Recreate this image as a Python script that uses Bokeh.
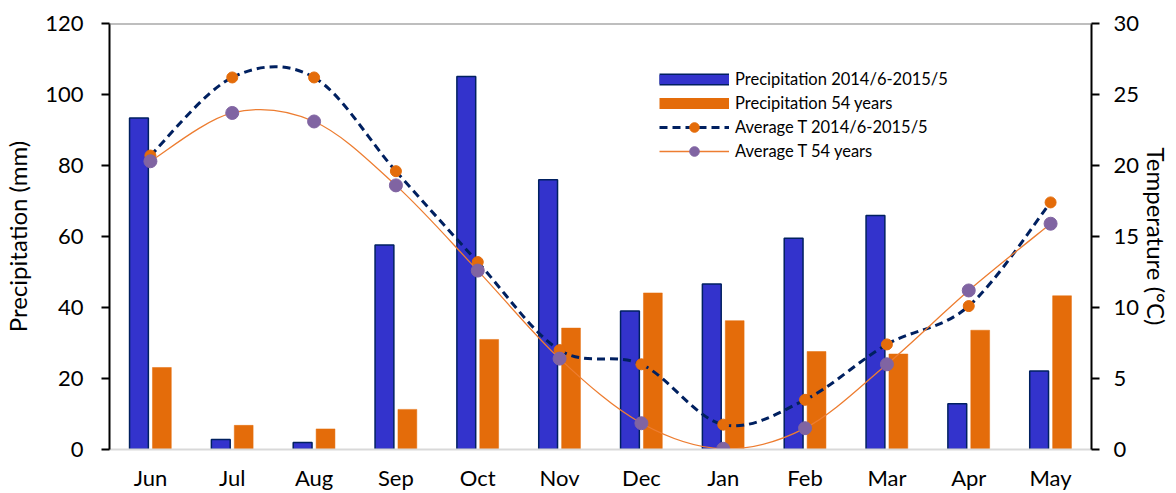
import numpy as np
from bokeh.plotting import figure
from bokeh.models import (Range1d, LinearAxis, FixedTicker, Span, Legend,
                          LegendItem, ColumnDataSource)
from bokeh.transform import dodge
from bokeh.embed import file_html
from bokeh.resources import INLINE

# ---------------- data ----------------
months = ["Jun", "Jul", "Aug", "Sep", "Oct", "Nov", "Dec", "Jan", "Feb", "Mar", "Apr", "May"]
precip_2014 = [93.4, 2.8, 2.0, 57.6, 105.1, 76.0, 39.0, 46.6, 59.5, 65.9, 12.9, 22.1]
precip_54 = [23.1, 6.8, 5.8, 11.3, 31.0, 34.2, 44.1, 36.3, 27.6, 26.9, 33.6, 43.3]
temp_2014 = [20.7, 26.2, 26.2, 19.6, 13.2, 7.0, 6.0, 1.75, 3.5, 7.4, 10.1, 17.4]
temp_54 = [20.3, 23.7, 23.1, 18.6, 12.6, 6.4, 1.85, 0.05, 1.5, 6.0, 11.2, 15.9]
precip_ticks = [0, 20, 40, 60, 80, 100, 120]
temp_ticks = [0, 5, 10, 15, 20, 25, 30]

labels = ["Precipitation 2014/6-2015/5", "Precipitation 54 years",
          "Average T 2014/6-2015/5", "Average T 54 years"]

BLUE = "#3333CC"
NAVY = "#002060"
ORANGE = "#E46C0A"
ORANGE_LINE = "#ED7D31"
PURPLE = "#8064A2"
FONT = "Lato"

x = list(range(len(months)))


def smooth(xs, ys):
    """Catmull-Rom style bezier control points (Excel-like smoothing)."""
    xs = np.asarray(xs, float)
    ys = np.asarray(ys, float)
    ex = np.concatenate([[xs[0]], xs, [xs[-1]]])
    ey = np.concatenate([[ys[0]], ys, [ys[-1]]])
    d = dict(x0=[], y0=[], x1=[], y1=[], cx0=[], cy0=[], cx1=[], cy1=[])
    for i in range(len(xs) - 1):
        p0x, p1x, p2x, p3x = ex[i], ex[i + 1], ex[i + 2], ex[i + 3]
        p0y, p1y, p2y, p3y = ey[i], ey[i + 1], ey[i + 2], ey[i + 3]
        d["x0"].append(p1x); d["y0"].append(p1y)
        d["x1"].append(p2x); d["y1"].append(p2y)
        d["cx0"].append(p1x + (p2x - p0x) / 6.0)
        d["cy0"].append(p1y + (p2y - p0y) / 6.0)
        d["cx1"].append(p2x - (p3x - p1x) / 6.0)
        d["cy1"].append(p2y - (p3y - p1y) / 6.0)
    return ColumnDataSource(d)


p = figure(width=1176, height=493, output_backend="svg", toolbar_location=None,
           x_range=Range1d(-0.5, len(months) - 0.5), y_range=Range1d(0, 120),
           min_border_left=107, min_border_right=85, min_border_top=23,
           min_border_bottom=44)
p.extra_y_ranges = {"temp": Range1d(0, 30)}
p.grid.visible = False
p.outline_line_color = None
p.background_fill_color = "white"
p.border_fill_color = "white"

bars = ColumnDataSource(dict(x=x, a=precip_2014, b=precip_54))
p.vbar(x=dodge("x", -0.14), top="a", width=0.23, source=bars,
       fill_color=BLUE, line_color=NAVY, line_width=1.5)
p.vbar(x=dodge("x", 0.14), top="b", width=0.23, source=bars,
       fill_color=ORANGE, line_color=ORANGE, line_width=0.5)

# smooth lines
p.bezier(source=smooth(x, temp_2014), x0="x0", y0="y0", x1="x1", y1="y1",
         cx0="cx0", cy0="cy0", cx1="cx1", cy1="cy1", y_range_name="temp",
         line_color=NAVY, line_width=3, line_dash="8 5")
p.scatter(x=x, y=temp_2014, y_range_name="temp", size=11, marker="circle",
          fill_color=ORANGE, line_color=ORANGE)
p.bezier(source=smooth(x, temp_54), x0="x0", y0="y0", x1="x1", y1="y1",
         cx0="cx0", cy0="cy0", cx1="cx1", cy1="cy1", y_range_name="temp",
         line_color=ORANGE_LINE, line_width=1.3)
p.scatter(x=x, y=temp_54, y_range_name="temp", size=13, marker="circle",
          fill_color=PURPLE, line_color=PURPLE)

# top border line
p.add_layout(Span(location=120, dimension="width", line_color="#7F7F7F", line_width=2))

# axes
ly = p.yaxis[0]
ly.ticker = FixedTicker(ticks=precip_ticks)
ly.axis_label = "Precipitation (mm)"

ry = LinearAxis(y_range_name="temp", ticker=FixedTicker(ticks=temp_ticks),
                axis_label="Temperature (°C)")
p.add_layout(ry, "right")

for ax in (ly, ry):
    ax.axis_line_color = "black"
    ax.axis_line_width = 2
    ax.major_tick_line_color = "black"
    ax.major_tick_line_width = 2
    ax.major_tick_out = 8
    ax.major_tick_in = 0
    ax.minor_tick_line_color = None
    ax.major_label_text_font = FONT
    ax.major_label_text_font_size = "22px"
    ax.major_label_text_color = "black"
    ax.axis_label_text_font = FONT
    ax.axis_label_text_font_size = "24px"
    ax.axis_label_text_font_style = "normal"
    ax.axis_label_text_color = "black"
    ax.axis_label_text_line_height = 0.9
ly.major_label_standoff = 18
ly.axis_label_standoff = 10
ry.major_label_standoff = 14
ry.axis_label_standoff = 0

xa = p.xaxis[0]
xa.ticker = FixedTicker(ticks=x)
xa.major_label_overrides = {i: m for i, m in enumerate(months)}
xa.axis_line_color = "#D9D9D9"
xa.axis_line_width = 2
xa.major_tick_line_color = None
xa.minor_tick_line_color = None
xa.major_label_text_font = FONT
xa.major_label_text_font_size = "22px"
xa.major_label_text_color = "black"
xa.major_label_standoff = 8

# legend (proxy renderers that draw nothing in the plot)
def proxy():
    return ColumnDataSource(dict(x=[np.nan], y=[np.nan]))

l1a = p.line(x="x", y="y", source=proxy(), line_color=NAVY, line_width=12)
l1b = p.line(x="x", y="y", source=proxy(), line_color=BLUE, line_width=9)
l2 = p.line(x="x", y="y", source=proxy(), line_color=ORANGE, line_width=11)
l3 = p.line(x="x", y="y", source=proxy(), line_color=NAVY, line_width=3, line_dash="8 5")
m3 = p.scatter(x="x", y="y", source=proxy(), marker="circle",
               fill_color=ORANGE, line_color=ORANGE)
l4 = p.line(x="x", y="y", source=proxy(), line_color=ORANGE_LINE, line_width=1.3)
m4 = p.scatter(x="x", y="y", source=proxy(), marker="circle",
               fill_color=PURPLE, line_color=PURPLE)

legend = Legend(items=[
    LegendItem(label=labels[0], renderers=[l1a, l1b]),
    LegendItem(label=labels[1], renderers=[l2]),
    LegendItem(label=labels[2], renderers=[l3, m3]),
    LegendItem(label=labels[3], renderers=[l4, m4]),
], location=(550, 286), orientation="vertical",
    glyph_width=70, glyph_height=24, label_height=24, spacing=0,
    padding=0, margin=0, label_standoff=6,
    label_text_font=FONT, label_text_font_size="16.5px", label_text_color="black",
    background_fill_alpha=0, border_line_color=None)
p.add_layout(legend)

open("out.html", "w").write(file_html(p, INLINE))
